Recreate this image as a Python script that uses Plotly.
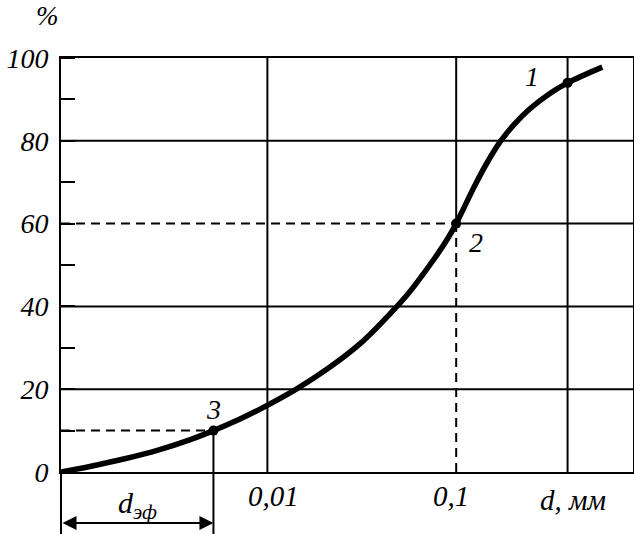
import math
import plotly.graph_objects as go

# ---- data ----
d_mm = [0.000807, 0.001164, 0.001754, 0.002636, 0.003945, 0.00518, 0.00716, 0.00915,
        0.01431, 0.02064, 0.03099, 0.04653, 0.0548, 0.06062, 0.07736, 0.09103, 0.1,
        0.1072, 0.1261, 0.1483, 0.1711, 0.2012, 0.2467, 0.3148, 0.389, 0.594]
passing = [0, 1.4, 3.2, 5.3, 7.9, 10, 12.8, 15.2,
           20.1, 24.8, 31.0, 39.1, 42.7, 45.2, 51.8, 56.7, 60,
           62.8, 69.4, 75.3, 79.8, 83.8, 87.8, 91.5, 94, 97.8]

point_d = [0.389, 0.1, 0.00518]
point_p = [94, 60, 10]
point_lbl = ["1", "2", "3"]

y_grid_full = [20, 40, 80]
x_grid_full = [0.01, 0.389]
x_ticks = [0.01, 0.1]
x_tick_text = ["0,01", "0,1"]
y_ticks = [0, 20, 40, 60, 80, 100]

x_log_range = [-3.093, -0.0636]
x_min = 10 ** x_log_range[0]
x_max = 10 ** x_log_range[1]

FONT = '"Liberation Serif", "Times New Roman", "DejaVu Serif", serif'
BLK = "black"
DASH = "9px,6px"

def tfont(size):
    return dict(family=FONT, size=size, style="italic", color=BLK)

fig = go.Figure()
fig.add_trace(go.Scatter(x=d_mm, y=passing, mode="lines",
                         line=dict(color=BLK, width=5.5, shape="spline", smoothing=1.0),
                         hoverinfo="skip", showlegend=False))
fig.add_trace(go.Scatter(x=point_d, y=point_p, mode="markers",
                         marker=dict(color=BLK, size=10), showlegend=False,
                         hoverinfo="skip"))

shapes = []
for v in y_grid_full:
    shapes.append(dict(type="line", xref="paper", yref="y", x0=0, x1=1, y0=v, y1=v,
                       line=dict(color=BLK, width=2), layer="below"))
for v in x_grid_full:
    shapes.append(dict(type="line", xref="x", yref="paper", x0=v, x1=v, y0=0, y1=1,
                       line=dict(color=BLK, width=2), layer="below"))
# point 2: 60 % line and 0.1 line (dashed up to the point, solid beyond)
p2d, p2p = point_d[1], point_p[1]
shapes += [
    dict(type="line", xref="x", yref="y", x0=x_min, x1=p2d, y0=p2p, y1=p2p,
         line=dict(color=BLK, width=2, dash=DASH), layer="below"),
    dict(type="line", xref="x", yref="y", x0=p2d, x1=x_max, y0=p2p, y1=p2p,
         line=dict(color=BLK, width=2), layer="below"),
    dict(type="line", xref="x", yref="y", x0=p2d, x1=p2d, y0=0, y1=p2p,
         line=dict(color=BLK, width=2, dash=DASH), layer="below"),
    dict(type="line", xref="x", yref="y", x0=p2d, x1=p2d, y0=p2p, y1=100,
         line=dict(color=BLK, width=2), layer="below"),
]
# point 3: dashed 10 % line, solid drop line to below the axis
p3d, p3p = point_d[2], point_p[2]
shapes += [
    dict(type="line", xref="x", yref="y", x0=x_min, x1=p3d, y0=p3p, y1=p3p,
         line=dict(color=BLK, width=2, dash=DASH), layer="below"),
    dict(type="line", xref="x", yref="y", x0=p3d, x1=p3d, y0=0, y1=p3p,
         line=dict(color=BLK, width=2), layer="below"),
    dict(type="line", xref="x", yref="paper", x0=p3d, x1=p3d, y0=-0.15, y1=0,
         line=dict(color=BLK, width=2)),
    # left axis extension below the plot
    dict(type="line", xref="paper", yref="paper", x0=0, x1=0, y0=-0.15, y1=0,
         line=dict(color=BLK, width=2)),
]

annotations = []
# x tick labels
for v, t in zip(x_ticks, x_tick_text):
    annotations.append(dict(x=math.log10(v), y=0, xref="x", yref="paper", text=t,
                            showarrow=False, yanchor="top", yshift=-6,
                            xshift=6 if v == 0.01 else -5, font=tfont(29)))
annotations.append(dict(x=1, y=0, xref="paper", yref="paper", text="d, мм",
                        showarrow=False, xanchor="right", yanchor="top",
                        xshift=-25, yshift=-10, font=tfont(29)))
annotations.append(dict(x=0, y=1, xref="paper", yref="paper", text="%",
                        showarrow=False, xanchor="center", yanchor="bottom",
                        xshift=-14, yshift=25, font=tfont(27)))
# point labels
lbl_shift = {"1": (-36, 6), "2": (20, -19), "3": (0, 21)}
for d, p, t in zip(point_d, point_p, point_lbl):
    sx, sy = lbl_shift[t]
    annotations.append(dict(x=math.log10(d), y=p, xref="x", yref="y", text=t,
                            showarrow=False, xshift=sx, yshift=sy, font=tfont(28)))
# d_eff label and double arrow
annotations.append(dict(x=(x_log_range[0] + math.log10(p3d)) / 2, y=0, xref="x",
                        yref="paper", text="d<sub>эф</sub>", showarrow=False,
                        yanchor="top", yshift=-12, font=tfont(30)))
annotations.append(dict(x=math.log10(p3d), y=-0.123, xref="x", yref="paper",
                        ax=x_log_range[0], axref="x", ay=0, ayref="pixel",
                        text="", showarrow=True, arrowside="end+start",
                        arrowhead=2, arrowsize=1.4, arrowwidth=2, arrowcolor=BLK,
                        standoff=0, startstandoff=0))

fig.update_layout(
    template="none",
    width=634, height=534,
    margin=dict(l=61, r=1, t=58, b=62, autoexpand=False),
    paper_bgcolor="white", plot_bgcolor="white",
    shapes=shapes, annotations=annotations,
    showlegend=False,
    xaxis=dict(type="log", range=x_log_range, showgrid=False, zeroline=False,
               automargin=False, showticklabels=False, ticks="", showline=True,
               mirror=True, linecolor=BLK, linewidth=2),
    yaxis=dict(range=[0, 100], tickvals=y_ticks, showgrid=False, zeroline=False,
               automargin=False, ticks="", showline=True, mirror=True,
               linecolor=BLK, linewidth=2, ticklabelstandoff=5,
               tickfont=tfont(28),
               minor=dict(dtick=10, ticks="inside", ticklen=14, tickwidth=2,
                          tickcolor=BLK, showgrid=False)),
)

fig.write_html(
    "out.html",
    config={"displayModeBar": False},
    post_script="document.body.style.margin='0px';document.body.style.overflow='hidden';",
)
